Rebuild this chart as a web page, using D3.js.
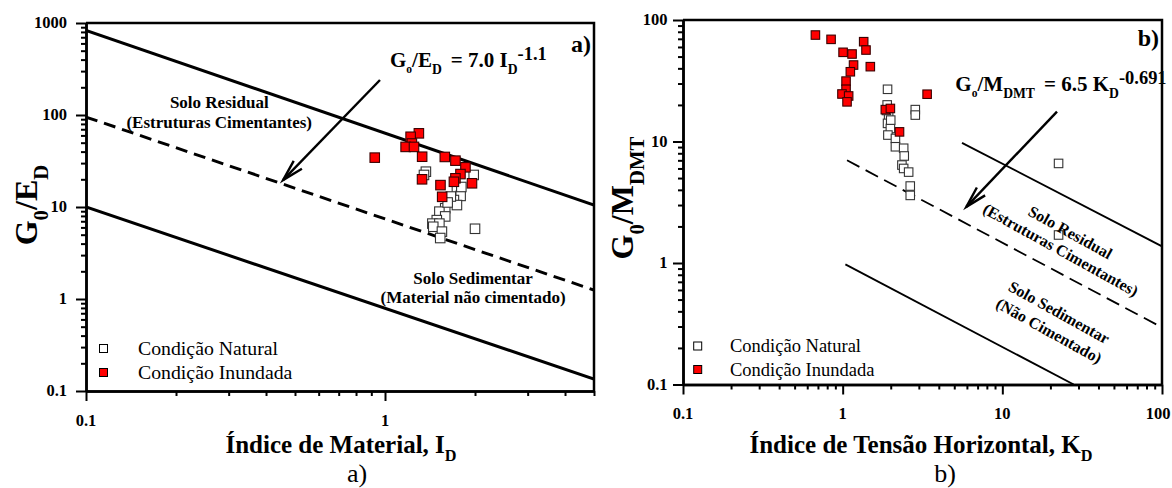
<!DOCTYPE html>
<html>
<head>
<meta charset="utf-8">
<script src="https://cdn.jsdelivr.net/npm/d3@7"></script>
<style>
  body { margin: 0; background: #fff; }
  svg, svg text { font-family: "Liberation Serif", "Times New Roman", Tinos, "DejaVu Serif", serif; }
  svg { display: block; }
</style>
</head>
<body>
<svg id="fig" width="1172" height="488" font-family="Liberation Serif, Times New Roman, DejaVu Serif, serif"></svg>
<script>
// ---------- Panel (a): G0/ED versus ID ----------
const aTicksX = [0.1, 1];
const aTicksY = [0.1, 1, 10, 100, 1000];
const aNatural = [
  [1.37, 24.2], [1.35, 22.3], [1.98, 22.3], [1.74, 15.3], [1.79, 13.2], [1.70, 11.9],
  [1.74, 10.5], [1.59, 9.7], [1.52, 8.9], [1.59, 7.9], [1.49, 7.2], [1.44, 6.6],
  [1.52, 6.6], [1.45, 6.1], [1.55, 5.4], [1.53, 4.6], [2.0, 5.8], [1.66, 13.0],
  [1.80, 16.5], [1.62, 11.2]
];
const aInundada = [
  [0.924, 34.4], [1.298, 63.2], [1.218, 58], [1.23, 49], [1.172, 45], [1.25, 45],
  [1.331, 35.2], [1.585, 35], [1.72, 31.9], [1.858, 27], [1.788, 22.8], [1.72, 20.5],
  [1.70, 18.8], [1.954, 18.1], [1.33, 20], [1.533, 17.3], [1.553, 12.9]
];
const aUpperLine = [[0.1, 830], [5, 10.5]];
const aFitLine = [[0.1, 95], [5, 1.25]];
const aLowerLine = [[0.1, 10], [5, 0.135]];

// ---------- Panel (b): G0/MDMT versus KD ----------
const bTicksX = [0.1, 1, 10, 100];
const bTicksY = [0.1, 1, 10, 100];
const bNatural = [
  [1.91, 26.9], [2.85, 18.3], [2.85, 16.5], [1.9, 20], [1.94, 16.0], [1.91, 14.1],
  [1.99, 12.8], [1.92, 11.3], [2.14, 10.6], [2.14, 9.05], [2.41, 8.8], [2.43, 7.6],
  [2.35, 6.4], [2.41, 6.0], [2.59, 5.6], [2.65, 4.3], [2.65, 3.6], [22.5, 6.6],
  [22.5, 1.70], [1.88, 18.0], [2.0, 15]
];
const bInundada = [
  [0.675, 75.2], [0.846, 69.3], [1.354, 66.3], [1.40, 56.6], [1.006, 54.2], [1.145, 52.5],
  [1.17, 42.6], [1.49, 41.3], [1.117, 37.5], [1.05, 31.4], [1.05, 26.9], [0.99, 24.6],
  [1.09, 23.7], [1.065, 21.2], [3.38, 24.5], [1.85, 18.3], [1.99, 18.7], [2.27, 12.0]
];
const bUpperLine = [[5.59, 9.75], [100, 1.37]];
const bFitLine = [[1.065, 7.0], [100, 0.295]];
const bLowerLine = [[1.04, 0.975], [28, 0.1]];

const legendLabels = ["Condição Natural", "Condição Inundada"];

const SERIF = "Liberation Serif, Times New Roman, DejaVu Serif, serif";
const svg = d3.select("#fig");
const W = +svg.attr("width");

// Writes a list of [text, kind, dx] runs into a <text>, kind = "sub" | "sup" | "subs" | null
function rich(textSel, runs, base) {
  let shift = 0;
  runs.forEach(([t, kind, dx]) => {
    let target = 0, size = base;
    if (kind === "sub") { target = base * 0.33; size = base * 0.65; }
    if (kind === "subs") { target = base * 0.30; size = base * 0.55; }
    if (kind === "sup") { target = -base * 0.32; size = base * 0.88; }
    const ts = textSel.append("tspan")
      .attr("dy", target - shift)
      .attr("font-size", size)
      .text(t);
    if (dx) ts.attr("dx", dx);
    shift = target;
  });
}

function arrow(g, x, y, from, to, width, headLen, headAng) {
  const x1 = x(from[0]), y1 = y(from[1]), x2 = x(to[0]), y2 = y(to[1]);
  g.append("line").attr("x1", x1).attr("y1", y1).attr("x2", x2).attr("y2", y2)
    .attr("stroke", "#000").attr("stroke-width", width);
  const ang = Math.atan2(y1 - y2, x1 - x2);
  const a = headAng * Math.PI / 180;
  const p1 = [x2 + headLen * Math.cos(ang - a), y2 + headLen * Math.sin(ang - a)];
  const p2 = [x2 + headLen * Math.cos(ang + a), y2 + headLen * Math.sin(ang + a)];
  g.append("path").attr("d", `M${p1}L${x2},${y2}L${p2}`)
    .attr("fill", "none").attr("stroke", "#000").attr("stroke-width", width);
}

function panel(p) {
  const g = svg.append("g").attr("font-family", SERIF);
  const x = d3.scaleLog().domain(p.xDomain).range([p.left, p.right]);
  const y = d3.scaleLog().domain(p.yDomain).range([p.bottom, p.top]);
  const isMajor = v => Math.abs(Math.log10(v) - Math.round(Math.log10(v))) < 1e-6;

  // frame (top and right)
  g.append("path")
    .attr("d", `M${p.left},${p.top}H${p.right}V${p.bottom}`)
    .attr("fill", "none").attr("stroke", "#000").attr("stroke-width", p.frameW);

  // axes: minor then major ticks
  const yMinor = y.ticks().filter(v => !isMajor(v));
  const xMinor = x.ticks().filter(v => !isMajor(v));
  const axes = [
    g.append("g").attr("transform", `translate(${p.left},0)`)
      .call(d3.axisLeft(y).tickValues(yMinor).tickSize(5).tickSizeOuter(0).tickFormat("")),
    g.append("g").attr("transform", `translate(${p.left},0)`)
      .call(d3.axisLeft(y).tickValues(p.yTicks).tickSize(10).tickSizeOuter(0).tickFormat("")),
    g.append("g").attr("transform", `translate(0,${p.bottom})`)
      .call(d3.axisBottom(x).tickValues(xMinor).tickSize(5).tickSizeOuter(0).tickFormat("")),
    g.append("g").attr("transform", `translate(0,${p.bottom})`)
      .call(d3.axisBottom(x).tickValues(p.xTicks).tickSize(10).tickSizeOuter(0).tickFormat(""))
  ];
  axes.forEach(a => {
    a.attr("font-family", SERIF);
    a.select(".domain").attr("stroke", "#000").attr("stroke-width", p.frameW);
    a.selectAll(".tick line").attr("stroke", "#000").attr("stroke-width", 2);
  });

  // tick labels
  g.selectAll(".ylab").data(p.yTicks).join("text")
    .attr("x", p.left - 10 - p.yPad).attr("y", d => y(d)).attr("dy", "0.33em")
    .attr("text-anchor", "end").attr("font-weight", "bold").attr("font-size", 16.5)
    .text(d => String(d));
  g.selectAll(".xlab").data(p.xTicks).join("text")
    .attr("x", d => Math.min(x(d), W - 14)).attr("y", p.bottom + p.xLabDrop)
    .attr("text-anchor", "middle").attr("font-weight", "bold").attr("font-size", 16.5)
    .text(d => String(d));

  // reference lines
  const line = d3.line().x(d => x(d[0])).y(d => y(d[1]));
  const clip = "clip-" + p.id;
  g.append("clipPath").attr("id", clip).append("rect")
    .attr("x", p.left).attr("y", p.top).attr("width", p.right - p.left).attr("height", p.bottom - p.top);
  const lines = g.append("g").attr("clip-path", `url(#${clip})`);
  lines.append("path").attr("d", line(p.upper)).attr("fill", "none")
    .attr("stroke", "#000").attr("stroke-width", p.lineW);
  lines.append("path").attr("d", line(p.fit)).attr("fill", "none")
    .attr("stroke", "#000").attr("stroke-width", p.lineW).attr("stroke-dasharray", p.dash);
  lines.append("path").attr("d", line(p.lower)).attr("fill", "none")
    .attr("stroke", "#000").attr("stroke-width", p.lineW);

  // points
  const s = p.marker;
  g.append("g").selectAll("rect").data(p.natural).join("rect")
    .attr("x", d => x(d[0]) - s / 2).attr("y", d => y(d[1]) - s / 2)
    .attr("width", s).attr("height", s)
    .attr("fill", "#fff").attr("stroke", "#333").attr("stroke-width", 1.1);
  g.append("g").selectAll("rect").data(p.inundada).join("rect")
    .attr("x", d => x(d[0]) - s / 2).attr("y", d => y(d[1]) - s / 2)
    .attr("width", s).attr("height", s)
    .attr("fill", "#ff0000").attr("stroke", "#3a0000").attr("stroke-width", 1.1);

  // legend
  const lg = g.append("g");
  legendLabels.forEach((t, i) => {
    lg.append("rect")
      .attr("x", p.legend.sx - 4).attr("y", p.legend.sy + i * p.legend.step - 4)
      .attr("width", 8).attr("height", 8)
      .attr("fill", i === 0 ? "#fff" : "#ff0000").attr("stroke", "#000").attr("stroke-width", 1);
    lg.append("text")
      .attr("x", p.legend.tx).attr("y", p.legend.ty + i * p.legend.step)
      .attr("font-size", p.legend.size).text(t);
  });

  // axis titles
  const xt = g.append("text")
    .attr("x", p.xTitle.x).attr("y", p.xTitle.y)
    .attr("text-anchor", "middle").attr("font-weight", "bold").attr("font-size", 25);
  rich(xt, p.xTitle.runs, 25);
  const yt = g.append("text")
    .attr("transform", `translate(${p.yTitle.x},${p.yTitle.y}) rotate(-90)`)
    .attr("text-anchor", "middle").attr("font-weight", "bold").attr("font-size", 32);
  rich(yt, p.yTitle.runs, 32);

  // caption below
  g.append("text").attr("x", p.caption.x).attr("y", 482)
    .attr("text-anchor", "middle").attr("font-size", 26).text(p.caption.text);

  // panel tag
  g.append("text").attr("x", p.right - 3).attr("y", p.top + p.tagDrop)
    .attr("text-anchor", "end").attr("font-weight", "bold").attr("font-size", 24).text(p.caption.text);

  // equation
  const eq = g.append("text")
    .attr("x", x(p.eq.at[0])).attr("y", y(p.eq.at[1]))
    .attr("font-weight", "bold").attr("font-size", 21);
  rich(eq, p.eq.runs, 21);

  // arrow
  arrow(g, x, y, p.arrow[0], p.arrow[1], 2.4, 22, 15);

  // region labels
  p.regions.forEach(r => {
    const rg = g.append("g")
      .attr("transform", `translate(${x(r.at[0])},${y(r.at[1])}) rotate(${r.rot})`);
    r.lines.forEach((t, i) => {
      rg.append("text").attr("x", 0).attr("y", i * r.step).attr("dy", r.dy)
        .attr("text-anchor", "middle").attr("font-weight", "bold").attr("font-size", r.size)
        .text(t);
    });
  });
}

panel({
  id: "a", left: 86, right: 594, top: 23, bottom: 391,
  xDomain: [0.1, 5], yDomain: [0.1, 1000], xTicks: aTicksX, yTicks: aTicksY,
  yPad: 9, xLabDrop: 35, frameW: 2.5, lineW: 3, dash: "12,7", marker: 9.5,
  natural: aNatural, inundada: aInundada,
  upper: aUpperLine, fit: aFitLine, lower: aLowerLine,
  legend: { sx: 103.5, sy: 348.5, tx: 138, ty: 355, step: 24, size: 19.8 },
  xTitle: { x: 341, y: 453, runs: [["Índice de Material, I", null], ["D", "sub"]] },
  yTitle: { x: 37, y: 205, runs: [["G", null], ["0", "sub"], ["/E", null], ["D", "sub"]] },
  caption: { x: 357, text: "a)" },
  tagDrop: 29,
  eq: { at: [1.039, 335], runs: [["G", null], ["o", "subs"], ["/E", null], ["D", "sub"],
        ["= 7.0 I", null, 9], ["D", "sub"], ["-1.1", "sup"]] },
  arrow: [[0.962, 240], [0.456, 19.6]],
  regions: [
    { at: [0.279, 119], rot: 0, step: 20, dy: 0, size: 17,
      lines: ["Solo Residual", "(Estruturas Cimentantes)"] },
    { at: [1.97, 1.46], rot: 0, step: 19, dy: 0, size: 17,
      lines: ["Solo Sedimentar", "(Material não cimentado)"] }
  ]
});

panel({
  id: "b", left: 683, right: 1162, top: 20, bottom: 384.5,
  xDomain: [0.1, 100], yDomain: [0.1, 100], xTicks: bTicksX, yTicks: bTicksY,
  yPad: 5.5, xLabDrop: 34.5, frameW: 2.5, lineW: 1.8, dash: "14,7", marker: 8.5,
  natural: bNatural, inundada: bInundada,
  upper: bUpperLine, fit: bFitLine, lower: bLowerLine,
  legend: { sx: 697.7, sy: 346, tx: 730, ty: 352, step: 23.5, size: 18.5 },
  xTitle: { x: 921, y: 453, runs: [["Índice de Tensão Horizontal, K", null], ["D", "sub"]] },
  yTitle: { x: 633, y: 198, runs: [["G", null], ["0", "sub"], ["/M", null], ["DMT", "sub"]] },
  caption: { x: 945, text: "b)" },
  tagDrop: 26,
  eq: { at: [5.08, 26], runs: [["G", null], ["o", "subs"], ["/M", null], ["DMT", "sub"],
        ["= 6.5 K", null, 9], ["D", "sub"], ["-0.691", "sup"]] },
  arrow: [[22.0, 17.6], [5.95, 2.90]],
  regions: [
    { at: [26.7, 1.79], rot: 29, step: 20, dy: "0.35em", size: 16,
      lines: ["Solo Residual", "(Estruturas Cimentantes)"] },
    { at: [22.7, 0.393], rot: 29, step: 21, dy: "0.35em", size: 16,
      lines: ["Solo Sedimentar", "(Não Cimentado)"] }
  ]
});
</script>
</body>
</html>
